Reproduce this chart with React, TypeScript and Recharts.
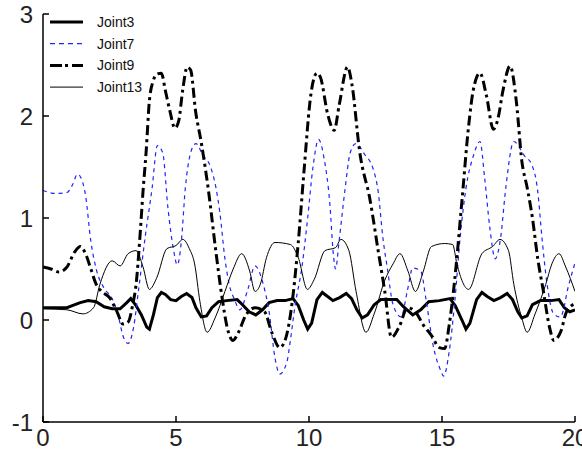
import React from "react";
import { LineChart, Line, XAxis, YAxis, Legend } from "recharts";

// ---- Data ----
const seriesNames = ["Joint3", "Joint7", "Joint9", "Joint13"];
const xTicks = [0, 5, 10, 15, 20];
const yTicks = [-1, 0, 1, 2, 3];

const joint3Time = [0, 0.9, 1.1, 1.4, 1.7, 2.0, 2.3, 2.6, 2.9, 3.15, 3.3, 3.5, 3.7, 3.9, 4.0, 4.15, 4.3, 4.45, 4.6, 4.8, 5.0, 5.2, 5.4, 5.6, 5.75, 5.95, 6.15, 6.35, 6.6, 6.9, 7.3, 7.5, 7.75, 8.0, 8.25, 8.5, 8.8, 9.1, 9.4, 9.6, 9.8, 9.95, 10.1, 10.3, 10.5, 10.7, 10.9, 11.15, 11.4, 11.6, 11.8, 12.0, 12.2, 12.45, 12.7, 13.0, 13.3, 13.55, 13.9, 14.2, 14.5, 14.9, 15.3, 15.5, 15.75, 15.9, 16.05, 16.3, 16.5, 16.7, 16.95, 17.2, 17.45, 17.65, 17.85, 18.0, 18.2, 18.4, 18.7, 19.1, 19.4, 19.6, 19.8, 20];
const joint3Values = [0.12, 0.12, 0.14, 0.17, 0.19, 0.18, 0.13, 0.11, 0.11, 0.17, 0.21, 0.14, 0.05, -0.07, -0.09, 0.05, 0.22, 0.27, 0.25, 0.2, 0.19, 0.23, 0.26, 0.22, 0.12, 0.03, 0.04, 0.12, 0.18, 0.19, 0.2, 0.15, 0.08, 0.05, 0.1, 0.17, 0.19, 0.19, 0.21, 0.14, 0.0, -0.09, -0.03, 0.2, 0.27, 0.23, 0.19, 0.22, 0.26, 0.21, 0.1, 0.02, 0.05, 0.15, 0.2, 0.2, 0.2, 0.13, 0.05, 0.1, 0.18, 0.19, 0.21, 0.14, 0.0, -0.09, -0.03, 0.2, 0.27, 0.23, 0.19, 0.22, 0.26, 0.2, 0.08, 0.02, 0.04, 0.15, 0.19, 0.19, 0.2, 0.12, 0.08, 0.1];

const joint7Time = [0, 0.5, 0.9, 1.1, 1.3, 1.45, 1.6, 1.8, 2.0, 2.3, 2.6, 2.85, 3.0, 3.2, 3.4, 3.6, 3.85, 4.1, 4.3, 4.5, 4.7, 4.9, 5.05, 5.2, 5.35, 5.55, 5.75, 6.0, 6.3, 6.5, 6.65, 6.84, 7.0, 7.2, 7.4, 7.7, 7.97, 8.27, 8.5, 8.72, 8.9, 9.17, 9.3, 9.47, 9.74, 9.95, 10.15, 10.36, 10.57, 10.78, 10.92, 11.0, 11.13, 11.34, 11.55, 11.76, 12.1, 12.4, 12.6, 12.78, 12.95, 13.15, 13.46, 13.7, 13.9, 14.2, 14.4, 14.66, 14.96, 15.06, 15.27, 15.48, 15.69, 15.9, 16.18, 16.43, 16.6, 16.8, 17.0, 17.2, 17.4, 17.7, 18.1, 18.38, 18.6, 18.76, 18.95, 19.2, 19.45, 19.77, 20];
const joint7Values = [1.27, 1.24, 1.25, 1.32, 1.43, 1.38, 1.22, 0.77, 0.5, 0.31, 0.21, 0.02, -0.15, -0.23, -0.08, 0.31, 0.83, 1.29, 1.71, 1.64, 1.09, 0.7, 0.54, 0.77, 1.29, 1.64, 1.73, 1.62, 1.5, 1.3, 1.05, 0.6, 0.35, 0.2, 0.1, 0.3, 0.53, 0.36, 0.08, -0.37, -0.53, -0.41, -0.2, 0.13, 0.53, 1.0, 1.5, 1.77, 1.58, 1.15, 0.63, 0.5, 0.77, 1.25, 1.64, 1.73, 1.62, 1.49, 1.26, 0.8, 0.5, 0.16, 0.03, 0.29, 0.51, 0.48, 0.2, -0.24, -0.5, -0.55, -0.31, 0.18, 0.83, 1.29, 1.61, 1.75, 1.4, 0.9, 0.6, 0.8, 1.3, 1.75, 1.61, 1.52, 1.26, 0.8, 0.35, 0.06, 0.03, 0.35, 0.56];

const joint9Time = [0, 0.3, 0.6, 0.9, 1.2, 1.4, 1.6, 1.8, 2.0, 2.2, 2.5, 2.8, 3.0, 3.2, 3.38, 3.5, 3.64, 3.76, 3.88, 4.0, 4.15, 4.28, 4.45, 4.6, 4.77, 4.96, 5.1, 5.25, 5.42, 5.55, 5.74, 5.95, 6.23, 6.5, 6.72, 6.93, 7.14, 7.35, 7.63, 7.98, 8.33, 8.6, 8.9, 9.1, 9.38, 9.6, 9.8, 10.08, 10.3, 10.43, 10.7, 10.95, 11.13, 11.45, 11.62, 11.9, 12.3, 12.6, 12.85, 13.1, 13.4, 13.7, 14.0, 14.3, 14.6, 14.9, 15.1, 15.27, 15.48, 15.75, 16.0, 16.18, 16.43, 16.67, 16.93, 17.1, 17.3, 17.56, 17.8, 18.0, 18.2, 18.4, 18.6, 18.8, 19.05, 19.2, 19.47, 19.68, 20];
const joint9Values = [0.52, 0.5, 0.47, 0.52, 0.67, 0.72, 0.65, 0.5, 0.35, 0.28, 0.22, 0.07, -0.04, -0.02, 0.16, 0.35, 0.8, 1.26, 1.66, 2.15, 2.35, 2.41, 2.42, 2.25, 2.05, 1.88, 1.95, 2.25, 2.48, 2.45, 2.04, 1.74, 1.25, 0.67, 0.24, -0.08, -0.2, -0.12, 0.05, 0.12, 0.08, -0.12, -0.27, -0.2, 0.2, 0.77, 1.42, 2.23, 2.42, 2.38, 2.02, 1.86, 2.1, 2.48, 2.3, 1.66, 1.17, 0.68, 0.28, -0.17, -0.06, 0.12, 0.08, -0.05, -0.15, -0.27, -0.28, -0.05, 0.4, 1.17, 1.9, 2.26, 2.42, 2.2, 1.87, 1.97, 2.26, 2.49, 2.13, 1.56, 1.3, 1.0, 0.6, 0.3, -0.08, -0.2, -0.11, 0.08, 0.16];

const joint13Time = [0, 0.9, 1.5, 1.9, 2.14, 2.6, 2.9, 3.2, 3.5, 3.76, 4.0, 4.27, 4.66, 5.0, 5.26, 5.5, 5.7, 5.9, 6.17, 6.47, 6.84, 7.15, 7.47, 7.77, 7.97, 8.17, 8.4, 8.72, 9.3, 9.6, 9.94, 10.2, 10.6, 11.0, 11.2, 11.5, 11.77, 12.14, 12.45, 12.85, 13.16, 13.42, 13.72, 14.0, 14.3, 14.6, 15.1, 15.4, 15.56, 16.0, 16.5, 16.9, 17.18, 17.5, 17.7, 18.0, 18.2, 18.5, 18.9, 19.13, 19.4, 19.65, 20];
const joint13Values = [0.11, 0.1, 0.06, 0.12, 0.35, 0.58, 0.53, 0.65, 0.68, 0.52, 0.3, 0.41, 0.7, 0.73, 0.79, 0.7, 0.55, 0.18, -0.12, 0.02, 0.28, 0.5, 0.65, 0.48, 0.28, 0.35, 0.61, 0.76, 0.74, 0.61, 0.3, 0.4, 0.68, 0.71, 0.79, 0.68, 0.28, -0.12, 0.06, 0.39, 0.55, 0.65, 0.48, 0.28, 0.48, 0.72, 0.75, 0.74, 0.55, 0.3, 0.65, 0.72, 0.79, 0.68, 0.35, 0.02, -0.12, 0.06, 0.35, 0.55, 0.65, 0.52, 0.28];

const toPoints = (times: number[], values: number[]) =>
  times.map((t, i) => ({ t, v: values[i] }));

const series = [
  { name: seriesNames[0], data: toPoints(joint3Time, joint3Values), color: "#000000", width: 3, dash: undefined as string | undefined, type: "linear" as const },
  { name: seriesNames[1], data: toPoints(joint7Time, joint7Values), color: "#2222ff", width: 1.2, dash: "4 4", type: "monotone" as const },
  { name: seriesNames[2], data: toPoints(joint9Time, joint9Values), color: "#000000", width: 3, dash: "10 4 3 4", type: "monotone" as const },
  { name: seriesNames[3], data: toPoints(joint13Time, joint13Values), color: "#000000", width: 1, dash: undefined as string | undefined, type: "monotone" as const },
];

const FONT = "'Liberation Sans', Arial, Helvetica, sans-serif";

const legendDash: Record<string, string | undefined> = {
  Joint3: undefined,
  Joint7: "5 4",
  Joint9: "12 3 3 4",
  Joint13: undefined,
};

const LegendContent = () => (
  <svg width={180} height={100} style={{ display: "block" }}>
    {series.map((s, i) => {
      const y = 22 + i * 21.7;
      return (
        <g key={s.name}>
          <line x1={50} x2={83} y1={y} y2={y} stroke={s.color} strokeWidth={s.width} strokeDasharray={legendDash[s.name]} />
          <text x={97} y={y} dy="0.35em" fontSize={14} fontFamily={FONT} fill="#111">
            {s.name}
          </text>
        </g>
      );
    })}
  </svg>
);

export default function App() {
  return (
    <div style={{ position: "absolute", left: 0, top: 0, width: 582, height: 455, background: "#fff" }}>
      <LineChart width={582} height={455} margin={{ top: 14, right: 7, bottom: 0, left: 0 }}>
        <XAxis
          dataKey="t"
          type="number"
          domain={[0, 20]}
          ticks={xTicks}
          allowDataOverflow
          height={33}
          tickSize={-6}
          tickMargin={13}
          axisLine={{ stroke: "#000", strokeWidth: 1.5 }}
          tickLine={{ stroke: "#000", strokeWidth: 1.5 }}
          tick={{ fontSize: 24, fontFamily: FONT, fill: "#222" }}
          interval={0}
        />
        <YAxis
          type="number"
          domain={[-1, 3]}
          ticks={yTicks}
          allowDataOverflow
          width={43}
          tickSize={-6}
          tickMargin={16}
          axisLine={{ stroke: "#000", strokeWidth: 1.5 }}
          tickLine={{ stroke: "#000", strokeWidth: 1.5 }}
          tick={{ fontSize: 24, fontFamily: FONT, fill: "#222" }}
          interval={0}
        />
        <Legend
          layout="horizontal"
          verticalAlign="middle"
          align="center"
          wrapperStyle={{ left: 0, top: 0, width: 180, height: 100 }}
          content={LegendContent}
        />
        {series.map((s) => (
          <Line
            key={s.name}
            name={s.name}
            data={s.data}
            dataKey="v"
            type={s.type}
            stroke={s.color}
            strokeWidth={s.width}
            strokeDasharray={s.dash}
            dot={false}
            activeDot={false}
            isAnimationActive={false}
          />
        ))}
      </LineChart>
    </div>
  );
}
